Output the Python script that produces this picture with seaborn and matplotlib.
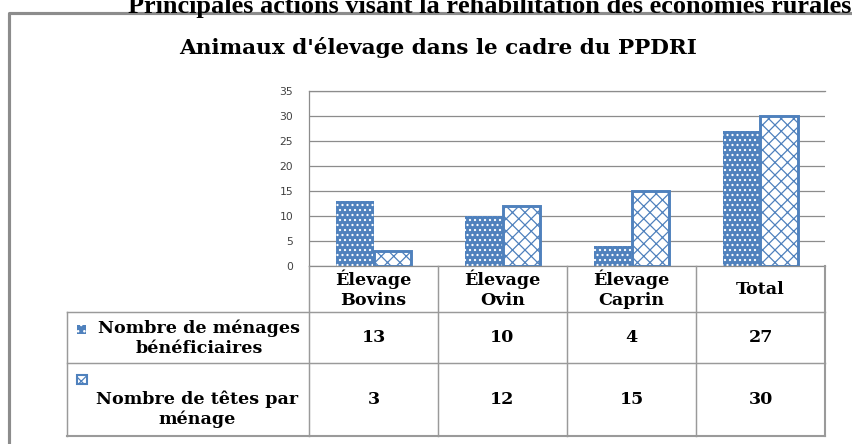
import matplotlib
matplotlib.use("Agg")
import matplotlib.pyplot as plt
from matplotlib.lines import Line2D
from matplotlib.patches import Rectangle
import pandas as pd
import seaborn as sns

# data
categories = ["Élevage\nBovins", "Élevage\nOvin", "Élevage\nCaprin", "Total"]
menages = [13, 10, 4, 27]
tetes = [3, 12, 15, 30]
series_labels = ["Nombre de ménages\nbénéficiaires", "Nombre de têtes par\nménage"]
y_ticks = [0, 5, 10, 15, 20, 25, 30, 35]
main_title = "Principales actions visant la réhabilitation des économies rurales"
chart_title = "Animaux d'élevage dans le cadre du PPDRI"

BLUE = "#4F81BD"
GRID = "#8c8c8c"
LINE = "#9a9a9a"
W, H, DPI = 852, 444, 150
SERIF = "DejaVu Serif"

plt.rcParams["hatch.linewidth"] = 0.6

df = pd.DataFrame({
    "cat": categories * 2,
    "val": menages + tetes,
    "serie": [series_labels[0]] * len(categories) + [series_labels[1]] * len(categories),
})

fig = plt.figure(figsize=(W / DPI, H / DPI), dpi=DPI)
ax = fig.add_axes([309 / W, 1 - 266 / H, (825 - 309) / W, (266 - 91) / H])

sns.barplot(
    data=df, x="cat", y="val", hue="serie",
    order=categories, hue_order=series_labels,
    palette=[BLUE, BLUE], saturation=1, width=0.58,
    errorbar=None, legend=False, ax=ax,
)

# dotted blue bars / white crosshatched bars with blue border
for bar in ax.containers[0]:
    bar.set_facecolor(BLUE)
    bar.set_edgecolor("white")
    bar.set_linewidth(0)
    bar.set_hatch(".....")
for bar in ax.containers[1]:
    bar.set_facecolor("white")
    bar.set_edgecolor(BLUE)
    bar.set_linewidth(1.4)
    bar.set_hatch("xxxx")

ax.set_xlim(-0.5, len(categories) - 0.5)
ax.set_ylim(0, 35)
ax.set_yticks(y_ticks)
ax.set_xticks([])
ax.set_xlabel("")
ax.set_ylabel("")
ax.grid(axis="y", color=GRID, linewidth=0.6)
ax.set_axisbelow(True)
ax.spines["right"].set_visible(False)
for s in ["top", "bottom", "left"]:
    ax.spines[s].set_color(GRID)
    ax.spines[s].set_linewidth(0.6)
ax.tick_params(axis="y", length=0, pad=7.5, labelsize=5.2, labelcolor="#404040")
ax.patch.set_alpha(0)

# overlay in pixel coordinates for the frame, titles and data table
ov = fig.add_axes([0, 0, 1, 1])
ov.set_xlim(0, W)
ov.set_ylim(H, 0)
ov.axis("off")

edges = [ax.transData.transform((e - 0.5, 0))[0] for e in range(len(categories) + 1)]
centers = [(a + b) / 2 for a, b in zip(edges[:-1], edges[1:])]
left_px, right_px = 67, edges[-1]
y_head, y_r1, y_r2, y_bot = 266, 312, 363, 436

# outer chart frame
ov.add_line(Line2D([9, 9, W + 10], [H + 10, 13, 13], color=GRID, lw=1.5, clip_on=False))

# table grid
for x in edges[1:-1]:
    ov.add_line(Line2D([x, x], [y_head, y_bot], color=LINE, lw=0.7))
ov.add_line(Line2D([edges[0], edges[0]], [y_head, y_bot], color=LINE, lw=0.7))
ov.add_line(Line2D([right_px, right_px], [y_head, y_bot], color=LINE, lw=1.0))
ov.add_line(Line2D([left_px, left_px], [y_r1, y_bot], color=LINE, lw=0.7))
for y in [y_r1, y_r2]:
    ov.add_line(Line2D([left_px, right_px], [y, y], color=LINE, lw=0.7))
ov.add_line(Line2D([left_px, right_px], [y_bot, y_bot], color=LINE, lw=1.0))

txt = dict(family=SERIF, fontweight="bold", fontsize=8.4, ha="center", va="center",
           linespacing=1.2, color="black")
for cx, cat in zip(centers, categories):
    ov.text(cx, (y_head + y_r1) / 2, cat, **txt)
for cx, a, b in zip(centers, menages, tetes):
    ov.text(cx, 338, str(a), **txt)
    ov.text(cx, 399, str(b), **txt)

ov.text(199, 338, series_labels[0], **txt)
ov.text(197, 409, series_labels[1], **txt)

# legend keys inside the row headers
ov.add_patch(Rectangle((77, 325), 9, 9, facecolor=BLUE, edgecolor="white",
                       linewidth=0, hatch="...."))
ov.add_patch(Rectangle((77, 375), 10, 9, facecolor="white", edgecolor=BLUE,
                       linewidth=1.0, hatch="xxxx"))

ov.text(490, 13, main_title, family="Liberation Serif", fontweight="bold",
        fontsize=12.6, ha="center", va="baseline", color="black")
ov.text(438, 47, chart_title, family=SERIF, fontweight="bold", fontsize=10.3,
        ha="center", va="center", color="black")

fig.savefig("out.png", dpi=DPI)
